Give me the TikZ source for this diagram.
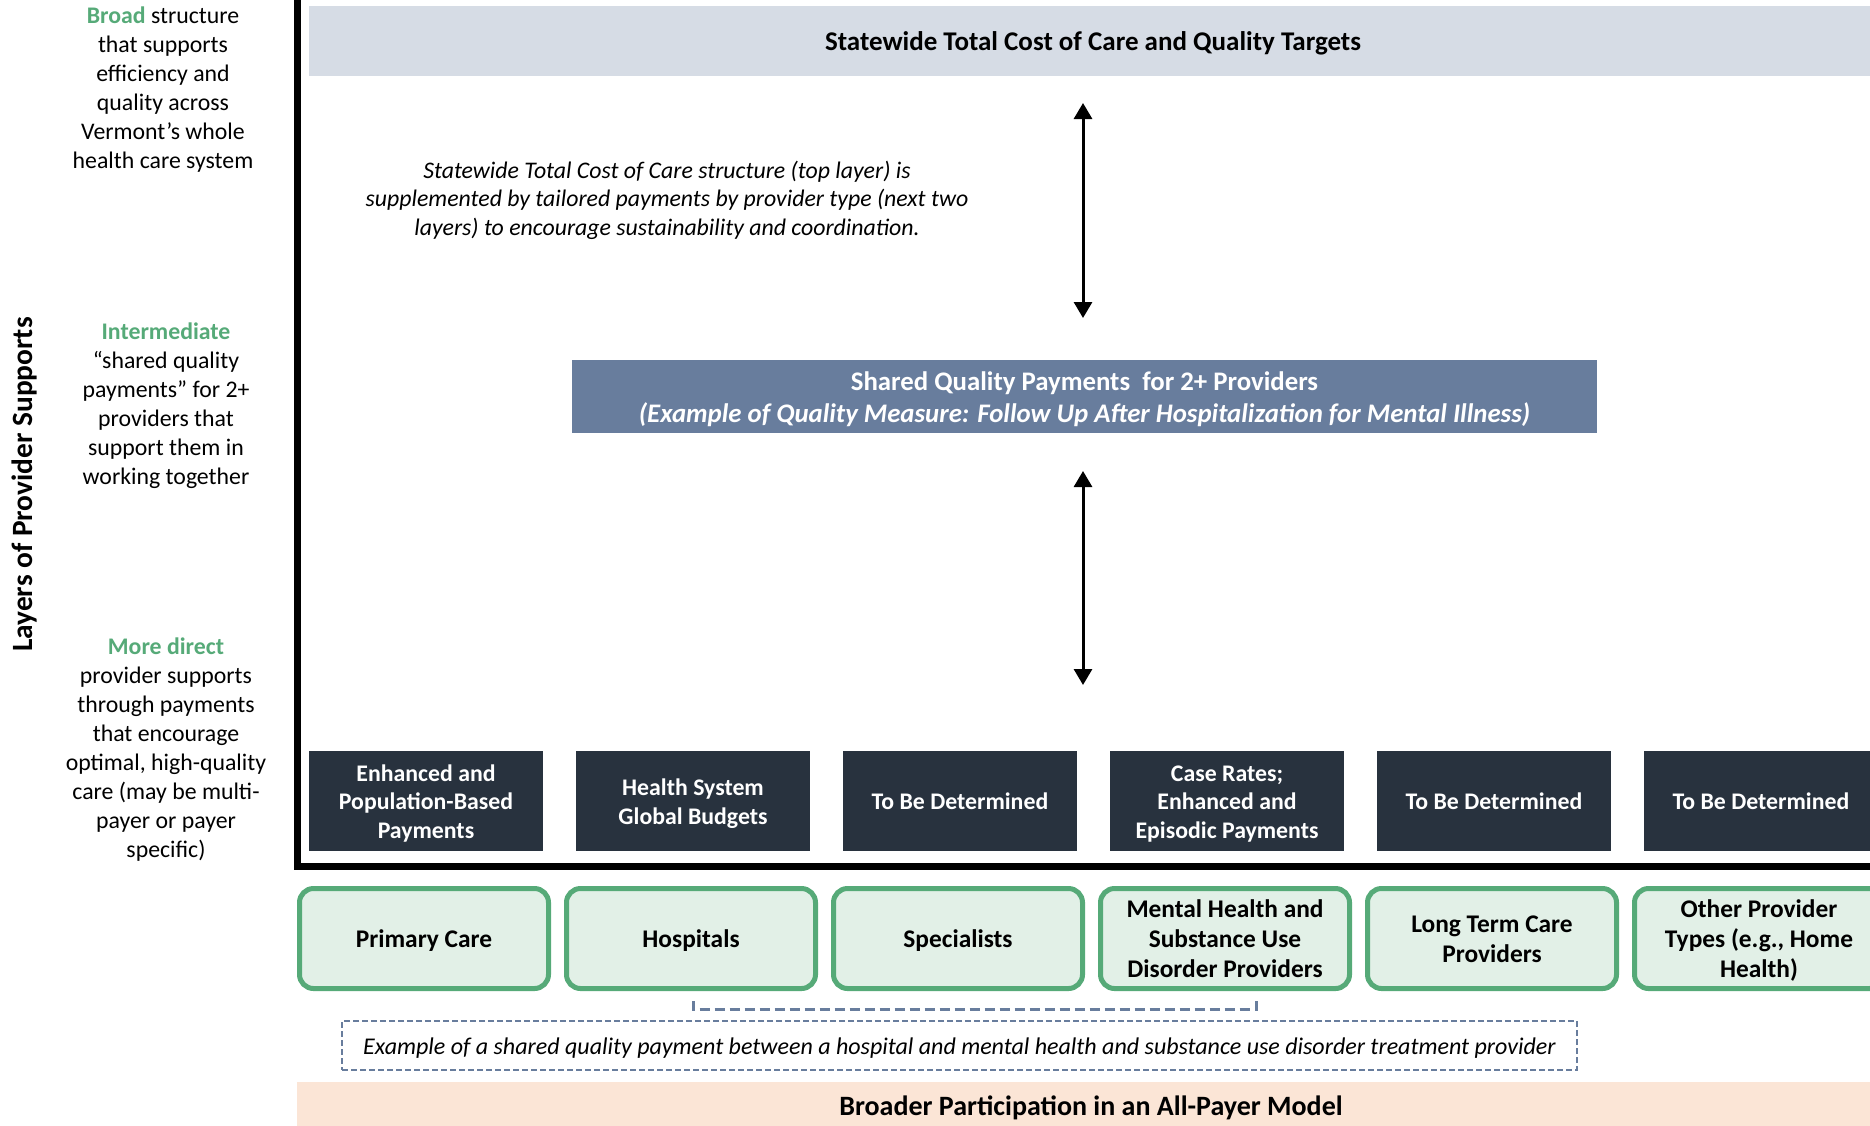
\documentclass[tikz,border=0pt]{standalone}
\usepackage{fontspec}
\setmainfont{Carlito}
\usetikzlibrary{arrows.meta}
\definecolor{grn}{RGB}{86,170,120}
\definecolor{grnfill}{RGB}{226,240,231}
\definecolor{topfill}{RGB}{214,220,229}
\definecolor{midfill}{RGB}{104,125,157}
\definecolor{darkbg}{RGB}{40,50,62}
\definecolor{peach}{RGB}{251,229,214}
\definecolor{dashc}{RGB}{104,125,157}
\newcommand{\bodyfont}{\fontsize{23.8}{28.6}\selectfont}
\newcommand{\sidefont}{\fontsize{23.8}{29}\selectfont}
\newcommand{\provfont}{\fontsize{25.4}{30}\selectfont}
\newcommand{\ts}{\rule{0pt}{0.95em}}
\newcommand{\bs}{\rule[-0.22em]{0pt}{0.22em}}
\begin{document}
\begin{tikzpicture}[x=1pt,y=-1pt,
  every node/.style={font=\bodyfont, inner sep=0pt, outer sep=0pt},
  barbox/.style={font=\bfseries\bodyfont, align=center},
  darkbox/.style={fill=darkbg, text=white, font=\bfseries\bodyfont, minimum width=234, minimum height=100, align=center},
  provbox/.style={draw=grn, fill=grnfill, line width=5, rounded corners=14, minimum width=249, minimum height=100, align=center, font=\bfseries\provfont},
  sidetext/.style={align=center, font=\sidefont},
  dblarrow/.style={line width=3, {Triangle[length=16,width=18]}-{Triangle[length=16,width=18]}}
]
\useasboundingbox (0,0) rectangle (1870,1125);
\clip (0,0) rectangle (1870,1125);

% layer bars
\node[barbox, fill=topfill, minimum width=1568, minimum height=70, font=\bfseries\fontsize{27}{32}\selectfont] (top) at (1093,41) {\ts Statewide Total Cost of Care and Quality Targets\bs};
\node[barbox, fill=midfill, text=white, minimum width=1025, minimum height=73, font=\bfseries\fontsize{26.8}{32.4}\selectfont] (sqp) at (1084.5,396.5)
  {\ts Shared Quality Payments\ \ for 2+ Providers\\\itshape (Example of Quality Measure: Follow Up After Hospitalization for Mental Illness)\bs};

% note
\node[align=center, font=\itshape\bodyfont] (note) at (667,200) {Statewide Total Cost of Care structure (top layer) is\\supplemented by tailored payments by provider type (next two\\layers) to encourage sustainability and coordination.};

% arrows
\coordinate (a1t) at (1083,103);
\coordinate (a1b) at (1083,318);
\coordinate (a2t) at (1083,471);
\coordinate (a2b) at (1083,685);
\draw[dblarrow] (a1t) -- (a1b);
\draw[dblarrow] (a2t) -- (a2b);

% direct payment boxes
\node[darkbox] (d1) at (426,801) {\ts Enhanced and\\Population-Based\\Payments\bs};
\node[darkbox] (d2) at (693,801) {\ts Health System\\Global Budgets\bs};
\node[darkbox] (d3) at (960,801) {\ts To Be Determined\bs};
\node[darkbox] (d4) at (1227,801) {\ts Case Rates;\\Enhanced and\\Episodic Payments\bs};
\node[darkbox] (d5) at (1494,801) {\ts To Be Determined\bs};
\node[darkbox] (d6) at (1761,801) {\ts To Be Determined\bs};

% frame
\draw[line width=7, miter limit=10] (297,-10) -- (297,866.5) -- (1890,866.5);

% provider boxes
\node[provbox] (p1) at (424,938.5) {\ts Primary Care\bs};
\node[provbox] (p2) at (691,938.5) {\ts Hospitals\bs};
\node[provbox] (p3) at (958,938.5) {\ts Specialists\bs};
\node[provbox] (p4) at (1225,938.5) {\ts Mental Health and\\Substance Use\\Disorder Providers\bs};
\node[provbox] (p5) at (1492,938.5) {\ts Long Term Care\\Providers\bs};
\node[provbox] (p6) at (1759,938.5) {\ts Other Provider\\Types (e.g., Home\\Health)\bs};

% bracket
\coordinate (bl) at (693,1001);
\coordinate (br) at (1256,1001);
\draw[dashc, line width=3, dash pattern=on 10 off 5] (bl) -- ++(0,8.5) -| (br);

% example box
\node[draw=dashc, line width=2, dash pattern=on 6 off 3, minimum width=1235, minimum height=49, font=\itshape\fontsize{24}{28.8}\selectfont] (ex) at (959.5,1045.5) {\ts Example of a shared quality payment between a hospital and mental health and substance use disorder treatment provider\bs};

% bottom bar
\node[barbox, fill=peach, minimum width=1588, minimum height=47, font=\bfseries\fontsize{28}{33}\selectfont] (bottom) at (1091,1105.5) {\ts Broader Participation in an All-Payer Model\bs};

% left column
\node[rotate=90, font=\bfseries\fontsize{29.4}{34}\selectfont] (title) at (24,484.5) {Layers of Provider Supports};
\node[sidetext] (s1) at (163,89.5) {{\color{grn}\bfseries Broad} structure\\that supports\\efficiency and\\quality across\\Vermont’s whole\\health care system};
\node[sidetext] (s2) at (166,405.5) {{\color{grn}\bfseries Intermediate}\\“shared quality\\payments” for 2+\\providers that\\support them in\\working together};
\node[sidetext] (s3) at (166,749.5) {{\color{grn}\bfseries More direct}\\provider supports\\through payments\\that encourage\\optimal, high-quality\\care (may be multi-\\payer or payer\\specific)};
\end{tikzpicture}
\end{document}
